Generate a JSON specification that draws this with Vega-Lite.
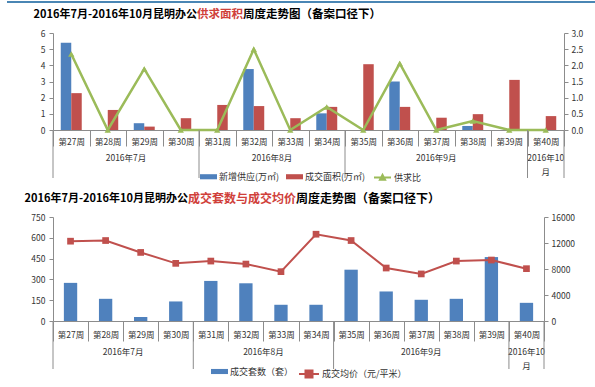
{
  "$schema": "https://vega.github.io/schema/vega-lite/v6.json",
  "padding": {"left": 0, "top": 1, "right": 0, "bottom": 0},
  "background": "white",
  "spacing": 9,
  "align": "none",
  "resolve": {"scale": {"color": "independent", "stroke": "independent"}, "legend": {"color": "independent", "stroke": "independent"}},
  "config": {
    "font": "Noto Sans CJK SC",
    "view": {"stroke": null},
    "axis": {"grid": false, "labelFont": "Noto Sans CJK SC", "labelFontSize": 8.5, "labelColor": "#333333", "domainColor": "#8c8c8c", "tickColor": "#8c8c8c", "title": null},
    "legend": {"labelFont": "Noto Sans CJK SC", "labelFontSize": 9, "labelColor": "#333333"}
  },
  "datasets": {
    "supply": [
      {"week": "第27周", "series": "新增供应(万㎡)", "value": 5.4},
      {"week": "第27周", "series": "成交面积(万㎡)", "value": 2.28},
      {"week": "第28周", "series": "新增供应(万㎡)", "value": 0},
      {"week": "第28周", "series": "成交面积(万㎡)", "value": 1.24},
      {"week": "第29周", "series": "新增供应(万㎡)", "value": 0.42},
      {"week": "第29周", "series": "成交面积(万㎡)", "value": 0.21},
      {"week": "第30周", "series": "新增供应(万㎡)", "value": 0},
      {"week": "第30周", "series": "成交面积(万㎡)", "value": 0.73},
      {"week": "第31周", "series": "新增供应(万㎡)", "value": 0},
      {"week": "第31周", "series": "成交面积(万㎡)", "value": 1.55},
      {"week": "第32周", "series": "新增供应(万㎡)", "value": 3.77},
      {"week": "第32周", "series": "成交面积(万㎡)", "value": 1.48},
      {"week": "第33周", "series": "新增供应(万㎡)", "value": 0},
      {"week": "第33周", "series": "成交面积(万㎡)", "value": 0.73},
      {"week": "第34周", "series": "新增供应(万㎡)", "value": 1.03},
      {"week": "第34周", "series": "成交面积(万㎡)", "value": 1.43},
      {"week": "第35周", "series": "新增供应(万㎡)", "value": 0},
      {"week": "第35周", "series": "成交面积(万㎡)", "value": 4.07},
      {"week": "第36周", "series": "新增供应(万㎡)", "value": 3.0},
      {"week": "第36周", "series": "成交面积(万㎡)", "value": 1.43},
      {"week": "第37周", "series": "新增供应(万㎡)", "value": 0},
      {"week": "第37周", "series": "成交面积(万㎡)", "value": 0.76},
      {"week": "第38周", "series": "新增供应(万㎡)", "value": 0.25},
      {"week": "第38周", "series": "成交面积(万㎡)", "value": 0.98},
      {"week": "第39周", "series": "新增供应(万㎡)", "value": 0},
      {"week": "第39周", "series": "成交面积(万㎡)", "value": 3.1},
      {"week": "第40周", "series": "新增供应(万㎡)", "value": 0},
      {"week": "第40周", "series": "成交面积(万㎡)", "value": 0.86}
    ],
    "ratio": [
      {"week": "第27周", "ratio": 2.35},
      {"week": "第28周", "ratio": 0},
      {"week": "第29周", "ratio": 1.89},
      {"week": "第30周", "ratio": 0},
      {"week": "第31周", "ratio": 0},
      {"week": "第32周", "ratio": 2.5},
      {"week": "第33周", "ratio": 0},
      {"week": "第34周", "ratio": 0.71},
      {"week": "第35周", "ratio": 0},
      {"week": "第36周", "ratio": 2.06},
      {"week": "第37周", "ratio": 0},
      {"week": "第38周", "ratio": 0.28},
      {"week": "第39周", "ratio": 0},
      {"week": "第40周", "ratio": 0}
    ],
    "deals": [
      {"week": "第27周", "count": 275, "price": 12280},
      {"week": "第28周", "count": 160, "price": 12380},
      {"week": "第29周", "count": 29, "price": 10550},
      {"week": "第30周", "count": 141, "price": 8870},
      {"week": "第31周", "count": 289, "price": 9220},
      {"week": "第32周", "count": 272, "price": 8760},
      {"week": "第33周", "count": 117, "price": 7590},
      {"week": "第34周", "count": 117, "price": 13350},
      {"week": "第35周", "count": 370, "price": 12380},
      {"week": "第36周", "count": 213, "price": 8150},
      {"week": "第37周", "count": 153, "price": 7240},
      {"week": "第38周", "count": 160, "price": 9220},
      {"week": "第39周", "count": 461, "price": 9380},
      {"week": "第40周", "count": 131, "price": 8050}
    ],
    "months": [
      {"pos": 2, "label": "2016年7月"},
      {"pos": 6, "label": "2016年8月"},
      {"pos": 10.5, "label": "2016年9月"},
      {"pos": 13.5, "label": "2016年10\n月"}
    ],
    "seps": [
      {"pos": 0}, {"pos": 4}, {"pos": 8}, {"pos": 13}, {"pos": 14}
    ]
  },
  "vconcat": [
    {
      "width": 511,
      "height": 97,
      "layer": [
        {
          "data": {"values": [{}]},
          "mark": {"type": "rule", "color": "#4a86b4", "strokeWidth": 2},
          "encoding": {"x": {"value": -46}, "x2": {"value": 549}, "y": {"value": -31}}
        },
        {
          "data": {"values": [{}]},
          "mark": {"type": "text", "text": "2016年7月-2016年10月昆明办公", "align": "right", "baseline": "middle", "fontSize": 11, "fontWeight": "bold", "color": "#000000"},
          "encoding": {"x": {"value": 144}, "y": {"value": -18}}
        },
        {
          "data": {"values": [{}]},
          "mark": {"type": "text", "text": "供求面积", "align": "left", "baseline": "middle", "fontSize": 11.5, "fontWeight": "bold", "color": "#d0403a"},
          "encoding": {"x": {"value": 144}, "y": {"value": -18}}
        },
        {
          "data": {"values": [{}]},
          "mark": {"type": "text", "text": "周度走势图（备案口径下）", "align": "left", "baseline": "middle", "fontSize": 11.5, "fontWeight": "bold", "color": "#000000"},
          "encoding": {"x": {"value": 190}, "y": {"value": -18}}
        },
        {
          "layer": [
            {
              "data": {"name": "supply"},
              "mark": {"type": "bar"},
              "encoding": {
                "x": {"field": "week", "type": "nominal", "sort": ["第27周","第28周","第29周","第30周","第31周","第32周","第33周","第34周","第35周","第36周","第37周","第38周","第39周","第40周"], "scale": {"paddingInner": 0, "paddingOuter": 0},
                  "axis": {"labelAngle": 0, "tickBand": "extent", "tickSize": 16, "labelPadding": -8.5, "labelBaseline": "top"}},
                "xOffset": {"field": "series", "type": "nominal", "sort": ["新增供应(万㎡)", "成交面积(万㎡)"], "scale": {"paddingInner": 0, "paddingOuter": 0.74}},
                "y": {"field": "value", "type": "quantitative", "scale": {"domain": [0, 6], "nice": false},
                  "axis": {"orient": "left", "values": [0,1,2,3,4,5,6], "tickSize": 4, "labelPadding": 4, "minExtent": 46, "maxExtent": 46}},
                "color": {"field": "series", "type": "nominal", "sort": ["新增供应(万㎡)", "成交面积(万㎡)"],
                  "scale": {"domain": ["新增供应(万㎡)", "成交面积(万㎡)"], "range": ["#4f81bd", "#c0504d"]},
                  "legend": {"orient": "none", "legendX": 147, "legendY": 135, "direction": "horizontal", "title": null, "symbolType": "M-1,-0.3H1V0.3H-1Z", "symbolSize": 289, "symbolStrokeWidth": 0, "columnPadding": 6, "labelOffset": 2}}
              }
            },
            {
              "data": {"name": "ratio"},
              "mark": {"type": "line", "strokeWidth": 2.5},
              "encoding": {
                "x": {"field": "week", "type": "nominal", "sort": ["第27周","第28周","第29周","第30周","第31周","第32周","第33周","第34周","第35周","第36周","第37周","第38周","第39周","第40周"]},
                "y": {"field": "ratio", "type": "quantitative", "scale": {"domain": [0, 3], "nice": false},
                  "axis": {"orient": "right", "values": [0,0.5,1,1.5,2,2.5,3], "format": ".1f", "tickSize": 4, "labelPadding": 3}},
                "stroke": {"datum": "供求比", "scale": {"domain": ["供求比"], "range": ["#9bbb59"]},
                  "legend": {"orient": "none", "legendX": 320, "legendY": 135, "title": null, "symbolType": "M-1,0H1M-0.3,0.25L0,-0.3L0.3,0.25Z", "symbolSize": 289, "symbolStrokeWidth": 2, "symbolFillColor": "#9bbb59", "labelOffset": 2}}
              }
            },
            {
              "data": {"name": "ratio"},
              "mark": {"type": "point", "shape": "triangle-up", "filled": true, "size": 40, "color": "#9bbb59", "opacity": 1},
              "encoding": {
                "x": {"field": "week", "type": "nominal", "sort": ["第27周","第28周","第29周","第30周","第31周","第32周","第33周","第34周","第35周","第36周","第37周","第38周","第39周","第40周"]},
                "y": {"field": "ratio", "type": "quantitative", "scale": {"domain": [0, 3], "nice": false}, "axis": null}
              }
            }
          ],
          "resolve": {"scale": {"y": "independent"}}
        },
        {
          "data": {"name": "months"},
          "mark": {"type": "text", "baseline": "top", "align": "center", "fontSize": 8.5, "lineBreak": "\n", "lineHeight": 14, "color": "#333333"},
          "encoding": {
            "x": {"field": "pos", "type": "quantitative", "scale": {"domain": [0, 14], "nice": false, "zero": false}, "axis": null},
            "y": {"value": 121},
            "text": {"field": "label"}
          }
        },
        {
          "data": {"name": "seps"},
          "mark": {"type": "rule", "color": "#8c8c8c", "strokeWidth": 1},
          "encoding": {
            "x": {"field": "pos", "type": "quantitative", "scale": {"domain": [0, 14], "nice": false, "zero": false}, "axis": null},
            "y": {"value": 97},
            "y2": {"value": 145}
          }
        }
      ],
      "resolve": {"scale": {"x": "independent"}}
    },
    {
      "width": 491,
      "height": 104,
      "layer": [
        {
          "data": {"values": [{}]},
          "mark": {"type": "text", "text": "2016年7月-2016年10月昆明办公", "align": "right", "baseline": "middle", "fontSize": 11, "fontWeight": "bold", "color": "#000000"},
          "encoding": {"x": {"value": 135}, "y": {"value": -18}}
        },
        {
          "data": {"values": [{}]},
          "mark": {"type": "text", "text": "成交套数与成交均价", "align": "left", "baseline": "middle", "fontSize": 12, "fontWeight": "bold", "color": "#d0403a"},
          "encoding": {"x": {"value": 135}, "y": {"value": -18}}
        },
        {
          "data": {"values": [{}]},
          "mark": {"type": "text", "text": "周度走势图（备案口径下）", "align": "left", "baseline": "middle", "fontSize": 12, "fontWeight": "bold", "color": "#000000"},
          "encoding": {"x": {"value": 243}, "y": {"value": -18}}
        },
        {
          "layer": [
            {
              "data": {"name": "deals"},
              "mark": {"type": "bar", "width": {"band": 0.38}},
              "encoding": {
                "x": {"field": "week", "type": "nominal", "sort": ["第27周","第28周","第29周","第30周","第31周","第32周","第33周","第34周","第35周","第36周","第37周","第38周","第39周","第40周"], "scale": {"paddingInner": 0, "paddingOuter": 0},
                  "axis": {"labelAngle": 0, "tickBand": "extent", "tickSize": 20, "labelPadding": -10.5, "labelBaseline": "top"}},
                "y": {"field": "count", "type": "quantitative", "scale": {"domain": [0, 750], "nice": false},
                  "axis": {"orient": "left", "values": [0,150,300,450,600,750], "tickSize": 4, "labelPadding": 4, "minExtent": 53, "maxExtent": 53}},
                "color": {"datum": "成交套数（套）", "scale": {"domain": ["成交套数（套）"], "range": ["#4f81bd"]},
                  "legend": {"orient": "none", "legendX": 158, "legendY": 146, "title": null, "symbolType": "M-1,-0.3H1V0.3H-1Z", "symbolSize": 289, "symbolStrokeWidth": 0, "labelOffset": 2}}
              }
            },
            {
              "data": {"name": "deals"},
              "mark": {"type": "line", "strokeWidth": 2},
              "encoding": {
                "x": {"field": "week", "type": "nominal", "sort": ["第27周","第28周","第29周","第30周","第31周","第32周","第33周","第34周","第35周","第36周","第37周","第38周","第39周","第40周"]},
                "y": {"field": "price", "type": "quantitative", "scale": {"domain": [0, 16000], "nice": false},
                  "axis": {"orient": "right", "values": [0,4000,8000,12000,16000], "format": "d", "tickSize": 4, "labelPadding": 3}},
                "stroke": {"datum": "成交均价（元/平米）", "scale": {"domain": ["成交均价（元/平米）"], "range": ["#c0504d"]},
                  "legend": {"orient": "none", "legendX": 245, "legendY": 146, "title": null, "symbolType": "M-1,0H1M-0.35,-0.35H0.35V0.35H-0.35Z", "symbolSize": 400, "symbolStrokeWidth": 2, "symbolFillColor": "#c0504d", "labelOffset": 2}}
              }
            },
            {
              "data": {"name": "deals"},
              "mark": {"type": "point", "shape": "square", "filled": true, "size": 45, "color": "#c0504d", "opacity": 1},
              "encoding": {
                "x": {"field": "week", "type": "nominal", "sort": ["第27周","第28周","第29周","第30周","第31周","第32周","第33周","第34周","第35周","第36周","第37周","第38周","第39周","第40周"]},
                "y": {"field": "price", "type": "quantitative", "scale": {"domain": [0, 16000], "nice": false}, "axis": null}
              }
            }
          ],
          "resolve": {"scale": {"y": "independent"}}
        },
        {
          "data": {"name": "months"},
          "mark": {"type": "text", "baseline": "top", "align": "center", "fontSize": 8.5, "lineBreak": "\n", "lineHeight": 14, "color": "#333333"},
          "encoding": {
            "x": {"field": "pos", "type": "quantitative", "scale": {"domain": [0, 14], "nice": false, "zero": false}, "axis": null},
            "y": {"value": 131},
            "text": {"field": "label"}
          }
        },
        {
          "data": {"name": "seps"},
          "mark": {"type": "rule", "color": "#8c8c8c", "strokeWidth": 1},
          "encoding": {
            "x": {"field": "pos", "type": "quantitative", "scale": {"domain": [0, 14], "nice": false, "zero": false}, "axis": null},
            "y": {"value": 104},
            "y2": {"value": 152}
          }
        }
      ],
      "resolve": {"scale": {"x": "independent"}}
    }
  ]
}
